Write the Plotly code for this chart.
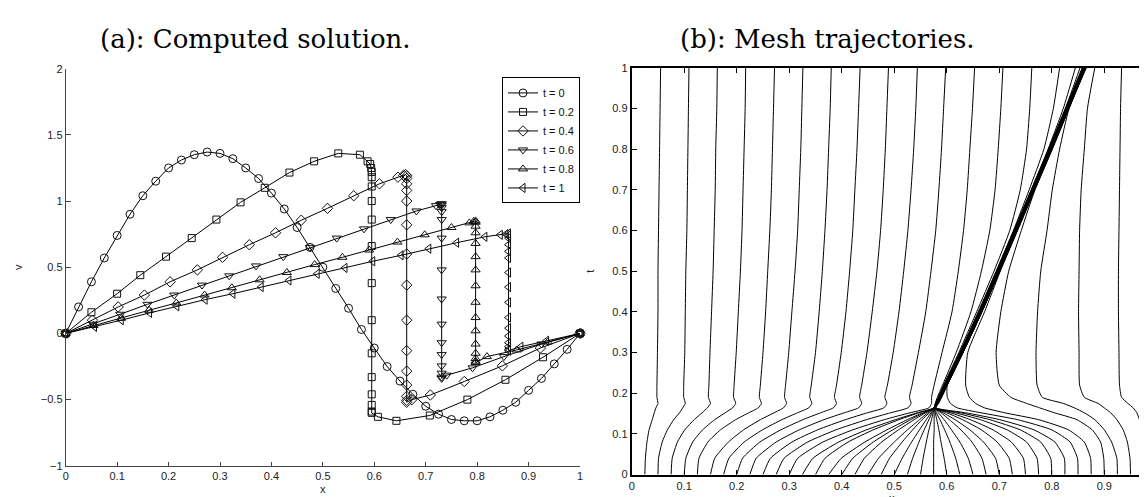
import plotly.graph_objects as go

W, H = 1147, 497

# ---------------- (a) computed solution: node positions and values ----------------
x_t0 = [0, 0.025, 0.05, 0.075, 0.1, 0.125, 0.15, 0.175, 0.2, 0.225, 0.25, 0.275, 0.3, 0.325,
        0.35, 0.375, 0.4, 0.425, 0.45, 0.475, 0.5, 0.525, 0.55, 0.575, 0.6, 0.625, 0.65, 0.675,
        0.7, 0.725, 0.75, 0.775, 0.8, 0.825, 0.85, 0.875, 0.9, 0.925, 0.95, 0.975, 1.0]
v_t0 = [0, 0.20, 0.39, 0.57, 0.74, 0.90, 1.04, 1.15, 1.25, 1.31, 1.35, 1.37, 1.36, 1.32,
        1.25, 1.17, 1.06, 0.94, 0.80, 0.65, 0.50, 0.34, 0.19, 0.03, -0.11, -0.25, -0.36, -0.46,
        -0.55, -0.61, -0.65, -0.66, -0.66, -0.63, -0.58, -0.52, -0.43, -0.34, -0.23, -0.12, 0]

x_t02 = [0, 0.05, 0.1, 0.145, 0.195, 0.245, 0.293, 0.34, 0.387, 0.435, 0.483, 0.53, 0.572, 0.587,
         0.592, 0.594, 0.595, 0.595, 0.595, 0.595, 0.595, 0.595, 0.595, 0.595, 0.595, 0.595,
         0.595, 0.595, 0.595, 0.595, 0.607, 0.643, 0.708, 0.781, 0.855, 0.928, 1.0]
v_t02 = [0, 0.16, 0.30, 0.44, 0.58, 0.72, 0.86, 0.99, 1.10, 1.215, 1.30, 1.36, 1.35, 1.30,
         1.28, 1.25, 1.22, 1.18, 1.11, 1.00, 0.86, 0.66, 0.38, 0.10, -0.15, -0.33, -0.46,
         -0.54, -0.59, -0.60, -0.63, -0.66, -0.62, -0.50, -0.35, -0.18, 0]

x_t04 = [0, 0.052, 0.102, 0.153, 0.203, 0.256, 0.305, 0.357, 0.408, 0.458, 0.509, 0.56, 0.61,
         0.646, 0.657, 0.661, 0.663, 0.663, 0.663, 0.663, 0.663, 0.663, 0.663, 0.663, 0.663,
         0.663, 0.663, 0.663, 0.663, 0.663, 0.663, 0.673, 0.709, 0.775, 0.849, 0.923, 1.0]
v_t04 = [0, 0.10, 0.20, 0.29, 0.39, 0.48, 0.575, 0.67, 0.76, 0.855, 0.945, 1.04, 1.13,
         1.18, 1.195, 1.20, 1.19, 1.17, 1.13, 1.08, 1.00, 0.82, 0.60, 0.365, 0.10,
         -0.13, -0.285, -0.39, -0.475, -0.505, -0.52, -0.50, -0.465, -0.363, -0.245, -0.11, 0]

x_t06 = [0, 0.053, 0.106, 0.159, 0.211, 0.265, 0.318, 0.37, 0.423, 0.475, 0.527, 0.58, 0.632,
         0.682, 0.72, 0.728, 0.731, 0.731, 0.731, 0.731, 0.731, 0.731, 0.731, 0.731, 0.731,
         0.731, 0.731, 0.731, 0.731, 0.731, 0.731, 0.741, 0.791, 0.852, 0.925, 1.0]
v_t06 = [0, 0.07, 0.145, 0.22, 0.29, 0.365, 0.435, 0.51, 0.58, 0.65, 0.72, 0.79, 0.86,
         0.925, 0.965, 0.975, 0.98, 0.97, 0.95, 0.92, 0.86, 0.72, 0.48, 0.26, 0.07,
         -0.07, -0.16, -0.245, -0.30, -0.33, -0.34, -0.315, -0.26, -0.175, -0.08, 0]

x_t08 = [0, 0.054, 0.108, 0.162, 0.215, 0.27, 0.323, 0.377, 0.43, 0.484, 0.538, 0.59, 0.645,
         0.698, 0.75, 0.785, 0.793, 0.797, 0.797, 0.797, 0.797, 0.797, 0.797, 0.797, 0.797,
         0.797, 0.797, 0.797, 0.797, 0.797, 0.797, 0.797, 0.797, 0.819, 0.877, 0.937, 1.0]
v_t08 = [0, 0.06, 0.115, 0.175, 0.23, 0.29, 0.345, 0.405, 0.46, 0.52, 0.575, 0.63, 0.69,
         0.745, 0.80, 0.835, 0.845, 0.85, 0.84, 0.81, 0.76, 0.68, 0.58, 0.48, 0.36,
         0.235, 0.12, 0.02, -0.08, -0.15, -0.19, -0.21, -0.22, -0.175, -0.125, -0.065, 0]

x_t10 = [0, 0.056, 0.108, 0.163, 0.216, 0.271, 0.325, 0.38, 0.434, 0.489, 0.543, 0.597, 0.652,
         0.706, 0.76, 0.815, 0.845, 0.856, 0.861, 0.861, 0.861, 0.861, 0.861, 0.861, 0.861,
         0.861, 0.861, 0.861, 0.861, 0.861, 0.861, 0.861, 0.861, 0.861, 0.885, 0.935, 1.0]
v_t10 = [0, 0.05, 0.10, 0.155, 0.205, 0.255, 0.30, 0.35, 0.40, 0.45, 0.495, 0.545, 0.59,
         0.64, 0.685, 0.73, 0.745, 0.75, 0.755, 0.74, 0.72, 0.67, 0.62, 0.57, 0.46,
         0.35, 0.235, 0.12, 0.04, -0.02, -0.07, -0.10, -0.12, -0.13, -0.10, -0.055, 0]

legend_labels = ["t = 0", "t = 0.2", "t = 0.4", "t = 0.6", "t = 0.8", "t = 1"]
marker_symbols = ["circle-open", "square-open", "diamond-open",
                  "triangle-down-open", "triangle-up-open", "triangle-left-open"]

x_ticks_a = [0, 0.1, 0.2, 0.3, 0.4, 0.5, 0.6, 0.7, 0.8, 0.9, 1]
y_ticks_a = [-1, -0.5, 0, 0.5, 1, 1.5, 2]

# ---------------- (b) mesh trajectories: x of each node at the times traj_t ----------------
traj_t = [0, 0.04, 0.08, 0.11, 0.135, 0.152, 0.164, 0.175, 0.19, 0.22, 0.3, 0.4, 0.5, 0.6,
          0.7, 0.8, 0.9, 1.0]

node01 = [0.025, 0.026, 0.029, 0.033, 0.039, 0.043, 0.046, 0.050, 0.048, 0.048, 0.049, 0.050, 0.050, 0.051, 0.052, 0.053, 0.054, 0.055]
node02 = [0.050, 0.051, 0.058, 0.068, 0.080, 0.091, 0.097, 0.102, 0.099, 0.099, 0.101, 0.102, 0.103, 0.105, 0.106, 0.107, 0.108, 0.109]
node03 = [0.075, 0.077, 0.087, 0.101, 0.119, 0.134, 0.144, 0.150, 0.146, 0.147, 0.149, 0.152, 0.155, 0.157, 0.159, 0.160, 0.162, 0.163]
node04 = [0.100, 0.103, 0.116, 0.135, 0.158, 0.178, 0.192, 0.198, 0.194, 0.195, 0.199, 0.203, 0.207, 0.210, 0.212, 0.214, 0.216, 0.217]
node05 = [0.125, 0.128, 0.145, 0.169, 0.198, 0.223, 0.241, 0.247, 0.243, 0.245, 0.250, 0.255, 0.259, 0.263, 0.266, 0.268, 0.270, 0.272]
node06 = [0.150, 0.158, 0.184, 0.213, 0.245, 0.271, 0.289, 0.295, 0.291, 0.293, 0.299, 0.305, 0.311, 0.316, 0.319, 0.322, 0.324, 0.326]
node07 = [0.175, 0.185, 0.214, 0.249, 0.286, 0.316, 0.337, 0.343, 0.339, 0.342, 0.350, 0.357, 0.363, 0.368, 0.372, 0.375, 0.378, 0.380]
node08 = [0.200, 0.211, 0.244, 0.284, 0.326, 0.360, 0.384, 0.390, 0.386, 0.390, 0.399, 0.408, 0.415, 0.421, 0.425, 0.429, 0.432, 0.435]
node09 = [0.225, 0.237, 0.275, 0.319, 0.366, 0.405, 0.432, 0.438, 0.434, 0.438, 0.448, 0.458, 0.467, 0.474, 0.479, 0.483, 0.486, 0.489]
node10 = [0.250, 0.264, 0.305, 0.354, 0.407, 0.449, 0.480, 0.486, 0.482, 0.487, 0.498, 0.509, 0.518, 0.526, 0.532, 0.537, 0.541, 0.544]
node11 = [0.275, 0.290, 0.335, 0.389, 0.447, 0.493, 0.526, 0.532, 0.529, 0.534, 0.546, 0.560, 0.570, 0.579, 0.585, 0.590, 0.594, 0.598]
node12 = [0.300, 0.316, 0.364, 0.421, 0.481, 0.530, 0.566, 0.571, 0.571, 0.576, 0.591, 0.610, 0.622, 0.632, 0.639, 0.644, 0.649, 0.653]
node13 = [0.325, 0.345, 0.394, 0.447, 0.502, 0.544, 0.576, 0.578, 0.582, 0.592, 0.618, 0.646, 0.666, 0.682, 0.692, 0.698, 0.703, 0.707]
node14 = [0.350, 0.368, 0.412, 0.460, 0.509, 0.547, 0.576, 0.579, 0.584, 0.594, 0.623, 0.657, 0.690, 0.720, 0.740, 0.752, 0.758, 0.762]
node15 = [0.375, 0.399, 0.444, 0.486, 0.525, 0.554, 0.576, 0.579, 0.585, 0.595, 0.625, 0.660, 0.694, 0.727, 0.757, 0.785, 0.803, 0.815]
node16 = [0.400, 0.421, 0.460, 0.497, 0.531, 0.557, 0.576, 0.580, 0.585, 0.596, 0.626, 0.661, 0.695, 0.728, 0.761, 0.793, 0.822, 0.845]
node17 = [0.425, 0.443, 0.476, 0.508, 0.538, 0.560, 0.576, 0.580, 0.586, 0.596, 0.626, 0.662, 0.696, 0.729, 0.762, 0.794, 0.826, 0.854]
node18 = [0.450, 0.470, 0.500, 0.525, 0.548, 0.564, 0.576, 0.579, 0.584, 0.595, 0.625, 0.661, 0.695, 0.728, 0.761, 0.794, 0.826, 0.858]
node19 = [0.475, 0.491, 0.515, 0.535, 0.553, 0.567, 0.576, 0.579, 0.585, 0.596, 0.626, 0.662, 0.696, 0.729, 0.762, 0.795, 0.827, 0.859]
node20 = [0.500, 0.515, 0.533, 0.548, 0.561, 0.570, 0.576, 0.580, 0.586, 0.597, 0.627, 0.663, 0.697, 0.730, 0.763, 0.796, 0.828, 0.860]
node21 = [0.525, 0.535, 0.547, 0.557, 0.566, 0.572, 0.576, 0.580, 0.586, 0.597, 0.627, 0.663, 0.697, 0.730, 0.763, 0.796, 0.828, 0.860]
node22 = [0.550, 0.555, 0.561, 0.566, 0.571, 0.574, 0.576, 0.581, 0.587, 0.598, 0.628, 0.664, 0.698, 0.731, 0.764, 0.797, 0.829, 0.861]
node23 = [0.575, 0.575, 0.575, 0.576, 0.576, 0.576, 0.576, 0.581, 0.587, 0.598, 0.628, 0.664, 0.698, 0.731, 0.764, 0.797, 0.829, 0.861]
node24 = [0.600, 0.595, 0.589, 0.585, 0.581, 0.578, 0.576, 0.581, 0.587, 0.598, 0.628, 0.664, 0.698, 0.731, 0.764, 0.797, 0.829, 0.861]
node25 = [0.625, 0.617, 0.606, 0.596, 0.587, 0.580, 0.576, 0.582, 0.588, 0.599, 0.629, 0.665, 0.699, 0.732, 0.765, 0.798, 0.830, 0.862]
node26 = [0.650, 0.641, 0.625, 0.609, 0.595, 0.584, 0.576, 0.582, 0.588, 0.599, 0.629, 0.665, 0.699, 0.732, 0.765, 0.798, 0.830, 0.862]
node27 = [0.675, 0.667, 0.648, 0.627, 0.605, 0.589, 0.576, 0.582, 0.588, 0.599, 0.629, 0.665, 0.699, 0.732, 0.765, 0.798, 0.830, 0.862]
node28 = [0.700, 0.693, 0.670, 0.644, 0.616, 0.593, 0.576, 0.583, 0.589, 0.600, 0.630, 0.666, 0.700, 0.733, 0.766, 0.799, 0.831, 0.863]
node29 = [0.725, 0.719, 0.696, 0.666, 0.630, 0.600, 0.576, 0.583, 0.589, 0.600, 0.630, 0.666, 0.700, 0.733, 0.766, 0.799, 0.831, 0.863]
node30 = [0.750, 0.746, 0.723, 0.688, 0.645, 0.607, 0.576, 0.583, 0.589, 0.600, 0.630, 0.666, 0.700, 0.733, 0.766, 0.799, 0.831, 0.863]
node31 = [0.775, 0.772, 0.752, 0.715, 0.664, 0.616, 0.577, 0.584, 0.590, 0.601, 0.631, 0.667, 0.701, 0.734, 0.767, 0.800, 0.832, 0.864]
node32 = [0.800, 0.798, 0.779, 0.740, 0.682, 0.626, 0.578, 0.584, 0.590, 0.601, 0.631, 0.667, 0.701, 0.734, 0.767, 0.800, 0.832, 0.864]
node33 = [0.825, 0.824, 0.806, 0.766, 0.701, 0.636, 0.580, 0.584, 0.590, 0.601, 0.631, 0.667, 0.701, 0.734, 0.767, 0.800, 0.832, 0.864]
node34 = [0.850, 0.849, 0.835, 0.800, 0.735, 0.665, 0.620, 0.607, 0.601, 0.601, 0.631, 0.667, 0.701, 0.734, 0.767, 0.800, 0.832, 0.864]
node35 = [0.875, 0.874, 0.862, 0.832, 0.775, 0.710, 0.672, 0.655, 0.643, 0.636, 0.640, 0.672, 0.702, 0.735, 0.768, 0.801, 0.833, 0.865]
node36 = [0.900, 0.899, 0.893, 0.877, 0.848, 0.805, 0.777, 0.752, 0.722, 0.700, 0.694, 0.703, 0.718, 0.742, 0.768, 0.801, 0.833, 0.865]
node37 = [0.925, 0.924, 0.914, 0.900, 0.882, 0.862, 0.843, 0.822, 0.782, 0.772, 0.770, 0.773, 0.779, 0.791, 0.801, 0.815, 0.833, 0.866]
node38 = [0.950, 0.949, 0.944, 0.936, 0.924, 0.912, 0.900, 0.888, 0.862, 0.853, 0.852, 0.851, 0.852, 0.853, 0.856, 0.862, 0.868, 0.882]
node39 = [0.975, 0.975, 0.973, 0.971, 0.967, 0.962, 0.955, 0.945, 0.933, 0.929, 0.928, 0.927, 0.927, 0.928, 0.929, 0.930, 0.931, 0.933]

mesh_nodes = [node01, node02, node03, node04, node05, node06, node07, node08, node09, node10,
              node11, node12, node13, node14, node15, node16, node17, node18, node19, node20,
              node21, node22, node23, node24, node25, node26, node27, node28, node29, node30,
              node31, node32, node33, node34, node35, node36, node37, node38, node39]

x_ticks_b = [0, 0.1, 0.2, 0.3, 0.4, 0.5, 0.6, 0.7, 0.8, 0.9]
y_ticks_b = [0, 0.1, 0.2, 0.3, 0.4, 0.5, 0.6, 0.7, 0.8, 0.9, 1]

# ---------------- figure ----------------
fig = go.Figure()

series_a = [(x_t0, v_t0), (x_t02, v_t02), (x_t04, v_t04),
            (x_t06, v_t06), (x_t08, v_t08), (x_t10, v_t10)]
marker_sizes = [8, 7, 8, 8, 8, 8]
for (xs, vs), lab, sym, ms in zip(series_a, legend_labels, marker_symbols, marker_sizes):
    fig.add_trace(go.Scatter(
        x=xs, y=vs, mode="lines+markers", name=lab,
        line=dict(color="black", width=1),
        marker=dict(symbol=sym, size=ms, color="#111", line=dict(width=1, color="#111")),
        cliponaxis=False, xaxis="x", yaxis="y"))

for node in mesh_nodes:
    fig.add_trace(go.Scatter(
        x=node, y=traj_t, mode="lines", showlegend=False, hoverinfo="skip",
        line=dict(color="black", width=1, shape="spline", smoothing=0.5),
        xaxis="x2", yaxis="y2"))

# empty trace that carries the right-hand tick axis of panel (b)
fig.add_trace(go.Scatter(x=[], y=[], xaxis="x2", yaxis="y3", showlegend=False))

tickfont = dict(family="Liberation Sans, Arial, sans-serif", size=11, color="#222")

common_a = dict(showgrid=False, zeroline=False, showline=True, linecolor="#444",
                linewidth=1, ticks="inside", tickcolor="#444", tickfont=tickfont, mirror=False)
common_b = dict(showgrid=False, zeroline=False, showline=True, linecolor="black",
                linewidth=2, ticks="inside", tickcolor="black", tickfont=tickfont)

title_font = dict(family="DejaVu Serif, Liberation Serif, serif", size=26, color="black")

fig.update_layout(
    width=W, height=H,
    margin=dict(l=0, r=0, t=0, b=0),
    paper_bgcolor="white", plot_bgcolor="white",
    font=dict(family="Liberation Sans, Arial, sans-serif", size=11, color="#222"),
    xaxis=dict(domain=[55 / W, 572 / W], range=[0, 1], tickvals=x_ticks_a, ticklen=4,
               anchor="y", title=dict(text="x", font=dict(size=11), standoff=4), **common_a),
    yaxis=dict(domain=[1 - 463 / H, 1 - 56 / H], range=[-1, 2], tickvals=y_ticks_a, ticklen=5,
               anchor="x", title=dict(text="v", font=dict(size=11)), **common_a),
    xaxis2=dict(domain=[624 / W, 1.0], range=[0, 523 / 527.8], tickvals=x_ticks_b, ticklen=5,
                anchor="y2", mirror="ticks", title=dict(text="x", font=dict(size=11), standoff=2),
                **common_b),
    yaxis2=dict(domain=[1 - 472 / H, 1 - 55 / H], range=[0, 1], tickvals=y_ticks_b, ticklen=5,
                anchor="x2", mirror=False, title=dict(text="t", font=dict(size=11)), **common_b),
    yaxis3=dict(overlaying="y2", side="right", anchor="x2", range=[0, 1], tickvals=y_ticks_b,
                ticks="inside", ticklen=5, tickcolor="black", showline=False,
                showticklabels=False, showgrid=False, zeroline=False),
    legend=dict(x=572 / W, xanchor="right", y=1 - 65 / H, yanchor="top",
                bgcolor="white", bordercolor="black", borderwidth=1,
                font=dict(family="Liberation Sans, Arial, sans-serif", size=11, color="#111"),
                tracegroupgap=0),
    annotations=[
        dict(text="(a): Computed solution.", x=246 / W, y=1 - 26 / H, xref="paper", yref="paper",
             xanchor="center", yanchor="middle", showarrow=False, font=title_font),
        dict(text="(b): Mesh trajectories.", x=821 / W, y=1 - 26 / H, xref="paper", yref="paper",
             xanchor="center", yanchor="middle", showarrow=False, font=title_font),
    ],
)

fig.write_html("out.html")
